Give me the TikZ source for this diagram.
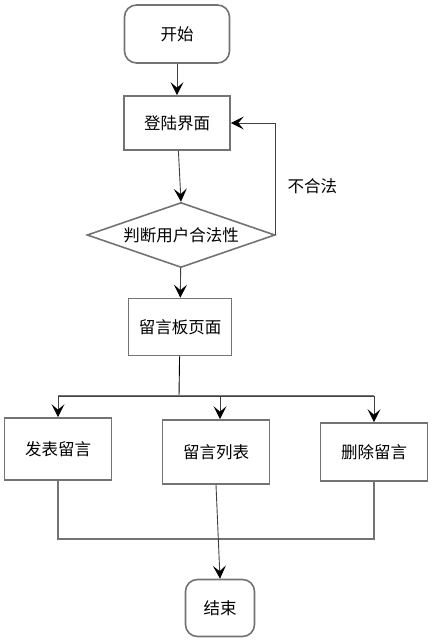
\documentclass[tikz,border=0pt]{standalone}
\usepackage{fontspec}
\setmainfont{Noto Sans CJK SC}
\usetikzlibrary{arrows.meta,shapes.geometric,positioning}

\begin{document}
\begin{tikzpicture}[x=1pt,y=-1pt,on grid,auto,font=\fontsize{16.5}{20}\selectfont]
       \tikzstyle{box}=[draw=black!55,line width=1.6pt,inner sep=0pt]
       \tikzstyle{term}=[box,rounded corners=12pt]
       \tikzstyle{arr}=[draw=black!75,line width=0.9pt,-{Stealth[length=13pt,width=13pt,inset=5.5pt,black]}]
       \tikzstyle{wire}=[draw=black!55,line width=1.6pt]
       \useasboundingbox (0,0) rectangle (432,642);

       \node[term,minimum width=105pt,minimum height=58pt] (start) at (177,34) {开始};
       \node[box,minimum width=106pt,minimum height=54pt] (login) [below=89pt of start] {登陆界面};
       \node[box,diamond,aspect=2.9,minimum width=188pt,minimum height=65pt] (judge) [below=112pt of login,xshift=4pt] {判断用户合法性};
       \node[box,minimum width=103pt,minimum height=57pt] (board) [below=92pt of judge,xshift=-1pt] {留言板页面};
       \node[box,minimum width=107pt,minimum height=64pt] (list) [below=125pt of board,xshift=36pt] {留言列表};
       \node[box,minimum width=107pt,minimum height=62pt] (post) [left=158pt of list,yshift=3pt] {发表留言};
       \node[box,minimum width=107pt,minimum height=58pt] (del) [right=158pt of list] {删除留言};
       \node[term,minimum width=69pt,minimum height=57pt] (end) [below=156pt of list,xshift=4pt] {结束};

       \coordinate (split) at (179,396);
       \coordinate (join) at (217,539);

       \path[arr]
       (start) edge (login)
       (login) edge (judge.north)
       (judge) edge (board);
       \draw[arr] (judge.east) |- node[pos=0.22,right=8pt] {不合法} (login.east);

       \draw[line width=0.9pt] (board) -- (split);
       \draw[wire] (post.north |- split) -- (del.north |- split);
       \draw[arr] (split) -| (post.north);
       \draw[arr] (split) -| ([xshift=4pt]list.north);
       \draw[arr] (split) -| (del.north);

       \draw[wire] (post.south) |- (join) -| (del.south);
       \draw[arr] (list.south) -- (end.north);
     \end{tikzpicture}
\end{document}
